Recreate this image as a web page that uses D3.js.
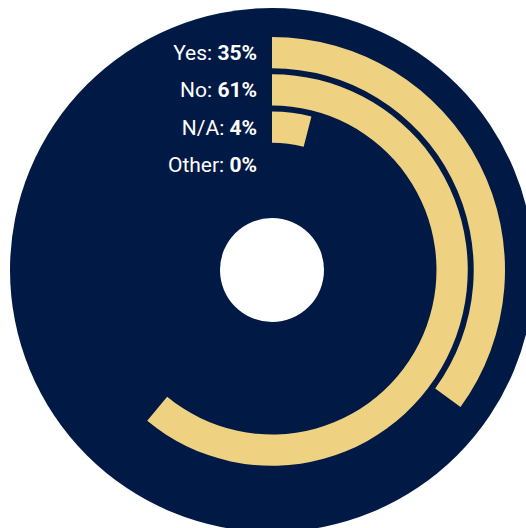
<!DOCTYPE html>
<html>
<head>
<meta charset="utf-8">
<script src="https://cdn.jsdelivr.net/npm/d3@7"></script>
<style>
  html, body { margin: 0; padding: 0; background: #fff; overflow: hidden; }
  svg { display: block; }
</style>
</head>
<body>
<div id="chart"></div>
<script>
// answers, outermost ring first
const categories = ["Yes", "No", "N/A", "Other"];
const percents = [35, 61, 4, 0];

const width = 526, height = 528;
const cx = 272, cy = 270;

const svg = d3.select("#chart").append("svg")
  .attr("width", width)
  .attr("height", height);

const g = svg.append("g").attr("transform", `translate(${cx},${cy})`);

// background disc
g.append("circle").attr("r", 262).attr("fill", "#011a45");
// hole in the middle
g.append("circle").attr("r", 52).attr("fill", "#fff");

const angle = d3.scaleLinear().domain([0, 100]).range([0, 2 * Math.PI]);
// reversed range: ring(cat) gives the inner radius of that band
const ring = d3.scaleBand()
  .domain(categories)
  .range([233, 90])
  .paddingInner(0.16);

const arc = d3.arc()
  .innerRadius(d => ring(d.cat))
  .outerRadius(d => ring(d.cat) + ring.bandwidth())
  .startAngle(0)
  .endAngle(d => angle(d.value));

const rows = categories.map((c, i) => ({ cat: c, value: percents[i] }));

g.selectAll("path.bar")
  .data(rows.filter(d => d.value > 0))
  .join("path")
  .attr("class", "bar")
  .attr("d", arc)
  .attr("fill", "#eed281");

// labels to the left of the bar starts
const labels = g.selectAll("text.lbl")
  .data(rows)
  .join("text")
  .attr("class", "lbl")
  .attr("x", -15)
  .attr("y", d => -(ring(d.cat) + ring.bandwidth() / 2))
  .attr("dy", "0.36em")
  .attr("text-anchor", "end")
  .attr("fill", "#fff")
  .style("font-family", "Roboto, sans-serif")
  .style("font-size", "21px");

labels.append("tspan").text(d => d.cat + ": ");
labels.append("tspan").style("font-weight", "bold").text(d => d.value + "%");
</script>
</body>
</html>
